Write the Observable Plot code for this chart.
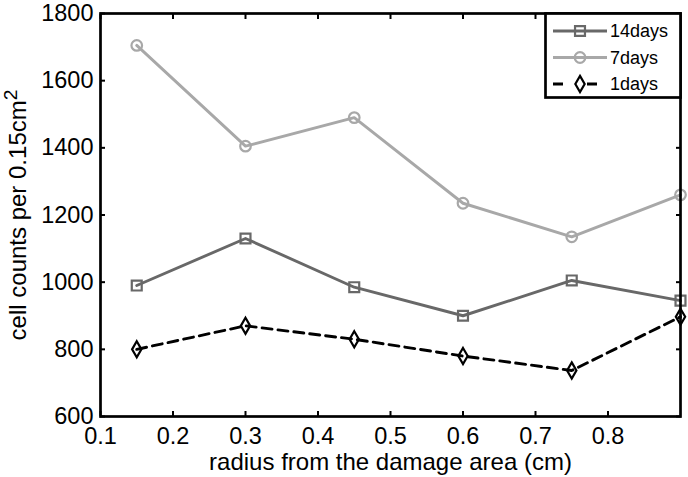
<!DOCTYPE html>
<html>
<head>
<meta charset="utf-8">
<script src="https://cdn.jsdelivr.net/npm/d3@7"></script>
<script src="https://cdn.jsdelivr.net/npm/@observablehq/plot@0.6"></script>
<style>
  html, body { margin: 0; padding: 0; background: #fff; }
  #wrap { position: relative; width: 688px; height: 477px; font-family: "Liberation Sans", Arial, Helvetica, sans-serif; }
  #legend { position: absolute; left: 544px; top: 12px; }
</style>
</head>
<body>
<div id="wrap"><div id="chart"></div><svg id="legend" width="138" height="88"></svg></div>
<script>
// ---- data ----
const radius = [0.15, 0.3, 0.45, 0.6, 0.75, 0.9];
const days14 = [990, 1130, 985, 900, 1005, 945];
const days7 = [1705, 1405, 1490, 1235, 1135, 1260];
const days1 = [800, 870, 830, 780, 737, 897];
const seriesNames = ["14days", "7days", "1days"];
const xTicks = [0.1, 0.2, 0.3, 0.4, 0.5, 0.6, 0.7, 0.8];
const yTicks = [600, 800, 1000, 1200, 1400, 1600, 1800];
const xLabel = "radius from the damage area (cm)";
const yLabelBase = "cell counts per 0.15cm";
const yLabelSup = "2";

// ---- styles ----
const styles = {
  "14days": {color: "#686868", symbol: "square", r: 5.6, dash: null},
  "7days": {color: "#a8a8a8", symbol: "circle", r: 5.3, dash: null},
  "1days": {color: "#000000", symbol: "diamond", r: 4.9, dash: "10,6"}
};

const valuesBySeries = {"14days": days14, "7days": days7, "1days": days1};
const rows = seriesNames.flatMap(name => radius.map((x, i) => ({series: name, x, y: valuesBySeries[name][i]})));

const lineMarks = seriesNames.flatMap(name => {
  const s = styles[name];
  const data = rows.filter(d => d.series === name);
  return [
    Plot.line(data, {x: "x", y: "y", stroke: s.color, strokeWidth: 2.9, strokeDasharray: s.dash}),
    Plot.dot(data, {x: "x", y: "y", symbol: () => s.symbol, r: s.r, stroke: s.color, strokeWidth: 2.2, fill: "none"})
  ];
});

const chart = Plot.plot({
  width: 688,
  height: 477,
  marginLeft: 100,
  marginRight: 8,
  marginTop: 13,
  marginBottom: 61,
  x: {domain: [0.1, 0.9]},
  y: {domain: [600, 1800]},
  style: {fontFamily: "'Liberation Sans', Arial, Helvetica, sans-serif", fontSize: "23px", color: "#000", background: "#fff", overflow: "visible"},
  marks: [
    ...lineMarks,
    Plot.axisX(xTicks, {anchor: "bottom", tickSize: -5, tickPadding: 16, fontSize: 23.5, strokeWidth: 2, label: xLabel, labelAnchor: "center", labelOffset: 53, labelArrow: "none"}),
    Plot.axisX(xTicks, {anchor: "top", tickSize: -5, strokeWidth: 2, fill: "none", label: null}),
    Plot.axisY(yTicks, {anchor: "left", tickSize: -5, tickPadding: 12, fontSize: 23.5, strokeWidth: 2, tickFormat: d3.format("d"), label: yLabelBase + yLabelSup, labelAnchor: "center", labelOffset: 92, labelArrow: "none"}),
    Plot.axisY(yTicks, {anchor: "right", tickSize: -5, strokeWidth: 2, fill: "none", label: null}),
    Plot.frame({stroke: "#000", strokeWidth: 2.7})
  ]
});
document.getElementById("chart").appendChild(chart);
// axis label sizes and superscript
d3.select(chart).selectAll('g[aria-label="x-axis label"] text').style("font-size", "24px");
const yl = d3.select(chart).selectAll('g[aria-label="y-axis label"] text').style("font-size", "24px");
yl.each(function () {
  const t = d3.select(this);
  t.text(yLabelBase);
  t.append("tspan").attr("dy", "-0.45em").style("font-size", "0.8em").text(yLabelSup);
});

// ---- legend ----
const lg = d3.select("#legend");
lg.append("rect").attr("x", 1.5).attr("y", 1.5).attr("width", 135).attr("height", 84)
  .attr("fill", "#fff").attr("stroke", "#000").attr("stroke-width", 2.7);
const symMap = {square: d3.symbolSquare, circle: d3.symbolCircle, diamond: d3.symbolDiamond};
seriesNames.forEach((name, i) => {
  const s = styles[name];
  const cy = 19 + i * 26.5;
  lg.append("line").attr("x1", 9).attr("x2", 63).attr("y1", cy).attr("y2", cy)
    .attr("stroke", s.color).attr("stroke-width", 2.9)
    .attr("stroke-dasharray", s.dash ? "10,24" : null);
  lg.append("path").attr("transform", `translate(36,${cy})`)
    .attr("d", d3.symbol(symMap[s.symbol], Math.PI * s.r * s.r)())
    .attr("fill", "none").attr("stroke", s.color).attr("stroke-width", 2.2);
  lg.append("text").attr("x", 66).attr("y", cy).attr("dy", "0.35em")
    .style("font-size", "18px").style("font-family", "'Liberation Sans', Arial, sans-serif")
    .text(name);
});
</script>
</body>
</html>
